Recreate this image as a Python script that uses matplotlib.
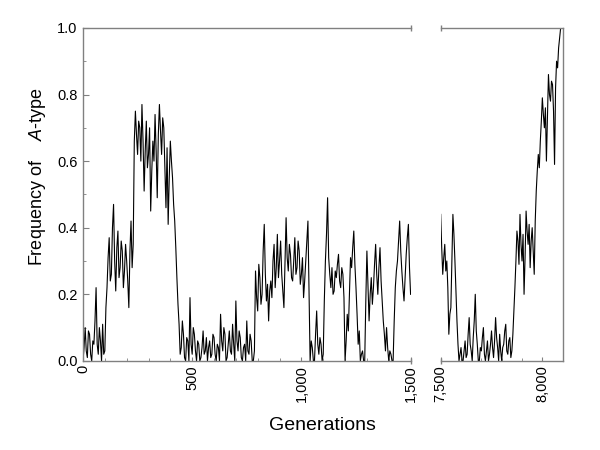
import numpy as np
import matplotlib
matplotlib.use('Agg')
import matplotlib.pyplot as plt

plt.rcParams['font.family'] = ['Liberation Sans', 'DejaVu Sans']
plt.rcParams['mathtext.fontset'] = 'custom'
plt.rcParams['mathtext.it'] = 'Liberation Sans:italic'
plt.rcParams['mathtext.rm'] = 'Liberation Sans'

# early generations, one value every 5 generations (0 .. 1500)
gen_early = np.arange(0, 1501, 5)
freq_early = [
    0.00, 0.04, 0.10, 0.03, 0.01, 0.09, 0.08, 0.02, 0.00, 0.06, 0.05, 0.12, 0.22, 0.05, 0.02, 0.10, 0.06, 0.00, 0.11, 0.02,
    0.03, 0.16, 0.22, 0.31, 0.37, 0.24, 0.26, 0.40, 0.47, 0.30, 0.21, 0.34, 0.39, 0.25, 0.28, 0.36, 0.33, 0.22, 0.27, 0.35,
    0.30, 0.24, 0.16, 0.33, 0.42, 0.28, 0.35, 0.66, 0.75, 0.68, 0.62, 0.72, 0.70, 0.60, 0.77, 0.66, 0.51, 0.63, 0.72, 0.58,
    0.62, 0.70, 0.45, 0.57, 0.66, 0.60, 0.74, 0.63, 0.49, 0.68, 0.77, 0.69, 0.62, 0.73, 0.70, 0.58, 0.46, 0.64, 0.41, 0.55,
    0.66, 0.60, 0.55, 0.47, 0.42, 0.34, 0.25, 0.17, 0.11, 0.02, 0.04, 0.12, 0.08, 0.01, 0.00, 0.07, 0.06, 0.00, 0.19, 0.05,
    0.02, 0.10, 0.08, 0.03, 0.00, 0.06, 0.05, 0.00, 0.01, 0.04, 0.09, 0.02, 0.03, 0.07, 0.00, 0.04, 0.06, 0.01, 0.02, 0.08,
    0.07, 0.02, 0.00, 0.05, 0.04, 0.00, 0.14, 0.06, 0.03, 0.10, 0.08, 0.00, 0.01, 0.05, 0.09, 0.03, 0.02, 0.11, 0.05, 0.00,
    0.18, 0.06, 0.03, 0.09, 0.07, 0.01, 0.00, 0.04, 0.05, 0.00, 0.12, 0.03, 0.02, 0.08, 0.06, 0.00, 0.00, 0.03, 0.27, 0.19,
    0.15, 0.29, 0.25, 0.17, 0.20, 0.33, 0.41, 0.26, 0.18, 0.23, 0.12, 0.21, 0.24, 0.19, 0.30, 0.35, 0.22, 0.28, 0.38, 0.25,
    0.30, 0.36, 0.26, 0.21, 0.16, 0.29, 0.43, 0.31, 0.27, 0.35, 0.32, 0.25, 0.24, 0.30, 0.37, 0.26, 0.28, 0.36, 0.33, 0.23,
    0.26, 0.31, 0.19, 0.24, 0.30, 0.36, 0.42, 0.20, 0.00, 0.06, 0.04, 0.00, 0.00, 0.08, 0.15, 0.05, 0.02, 0.07, 0.05, 0.00,
    0.02, 0.18, 0.30, 0.38, 0.49, 0.31, 0.26, 0.22, 0.28, 0.20, 0.21, 0.27, 0.25, 0.29, 0.32, 0.24, 0.22, 0.28, 0.26, 0.19,
    0.00, 0.06, 0.14, 0.09, 0.20, 0.31, 0.28, 0.34, 0.39, 0.29, 0.22, 0.14, 0.05, 0.09, 0.00, 0.02, 0.03, 0.00, 0.00, 0.18,
    0.33, 0.22, 0.12, 0.20, 0.25, 0.17, 0.22, 0.29, 0.35, 0.26, 0.20, 0.28, 0.34, 0.24, 0.18, 0.12, 0.08, 0.03, 0.10, 0.04,
    0.00, 0.03, 0.02, 0.00, 0.00, 0.12, 0.22, 0.27, 0.30, 0.36, 0.42, 0.33, 0.27, 0.22, 0.18, 0.25, 0.32, 0.37, 0.41, 0.28,
    0.20,
]

# late generations (7500 .. 8090)
gen_late = np.arange(7500, 8091, 5)
freq_late = [
    0.44, 0.34, 0.26, 0.31, 0.35, 0.27, 0.30, 0.22, 0.08, 0.14, 0.16, 0.30, 0.44, 0.38, 0.30, 0.21, 0.12, 0.05, 0.00, 0.02,
    0.04, 0.00, 0.00, 0.03, 0.06, 0.01, 0.02, 0.08, 0.13, 0.05, 0.03, 0.00, 0.07, 0.12, 0.20, 0.09, 0.05, 0.00, 0.00, 0.04,
    0.03, 0.07, 0.10, 0.02, 0.00, 0.03, 0.06, 0.00, 0.02, 0.05, 0.09, 0.04, 0.01, 0.06, 0.13, 0.07, 0.04, 0.00, 0.08, 0.03,
    0.00, 0.04, 0.05, 0.09, 0.11, 0.03, 0.02, 0.06, 0.07, 0.01, 0.03, 0.08, 0.15, 0.22, 0.30, 0.39, 0.36, 0.29, 0.44, 0.35,
    0.30, 0.38, 0.20, 0.31, 0.45, 0.39, 0.35, 0.41, 0.28, 0.36, 0.40, 0.33, 0.26, 0.42, 0.51, 0.57, 0.62, 0.58, 0.66, 0.72,
    0.79, 0.74, 0.70, 0.76, 0.60, 0.73, 0.86, 0.80, 0.78, 0.84, 0.83, 0.75, 0.59, 0.82, 0.90, 0.88, 0.94, 0.97, 1.00,
]

gray = '#808080'

fig = plt.figure(figsize=(6, 4.5), dpi=100)
ax1 = fig.add_axes([0.1383, 0.198, 0.546, 0.74])
ax2 = fig.add_axes([0.7345, 0.198, 0.2033, 0.74])

ax1.plot(gen_early, freq_early, color='black', lw=0.8)
ax2.plot(gen_late, freq_late, color='black', lw=0.8)

ax1.set_xlim(0, 1500)
ax2.set_xlim(7500, 8100)
for ax in (ax1, ax2):
    ax.set_ylim(0, 1.0)
    for s in ax.spines.values():
        s.set_color(gray)
        s.set_linewidth(1)
    ax.tick_params(axis='both', which='both', direction='in', colors=gray,
                   labelcolor='black', labelsize=10.5)
    ax.tick_params(axis='x', which='major', length=3, pad=3)
    ax.tick_params(axis='x', which='minor', length=2)

ax1.spines['right'].set_visible(False)
ax2.spines['left'].set_visible(False)

ax1.set_xticks([0, 500, 1000, 1500])
ax1.set_xticklabels(['0', '500', '1,000', '1,500'], rotation=90)
ax1.set_xticks(np.arange(0, 1501, 100), minor=True)
ax2.set_xticks([7500, 8000])
ax2.set_xticklabels(['7,500', '8,000'], rotation=90)
ax2.set_xticks(np.arange(7500, 8101, 100), minor=True)

ax1.set_yticks(np.arange(0, 1.01, 0.2))
ax1.set_yticklabels(['0.0', '0.2', '0.4', '0.6', '0.8', '1.0'])
ax1.set_yticks(np.arange(0, 1.01, 0.1), minor=True)
ax1.tick_params(axis='y', which='major', length=4, pad=4)
ax1.tick_params(axis='y', which='minor', length=2)
ax2.tick_params(axis='y', which='both', left=False, labelleft=False)

# small end caps where the axis is broken
for ax, xe in ((ax1, 1), (ax2, 0)):
    ax.plot([xe, xe], [0, 1], transform=ax.transAxes, ls='none', marker='|',
            ms=4.5, mew=1, color=gray, clip_on=False)

fig.text(0.538, 0.044, 'Generations', ha='center', va='baseline', fontsize=14)
fig.text(0.063, 0.607, r'Frequency of    $\it{A}$-type', rotation=90,
         ha='center', va='center', fontsize=13)

fig.savefig('out.png', dpi=100)
